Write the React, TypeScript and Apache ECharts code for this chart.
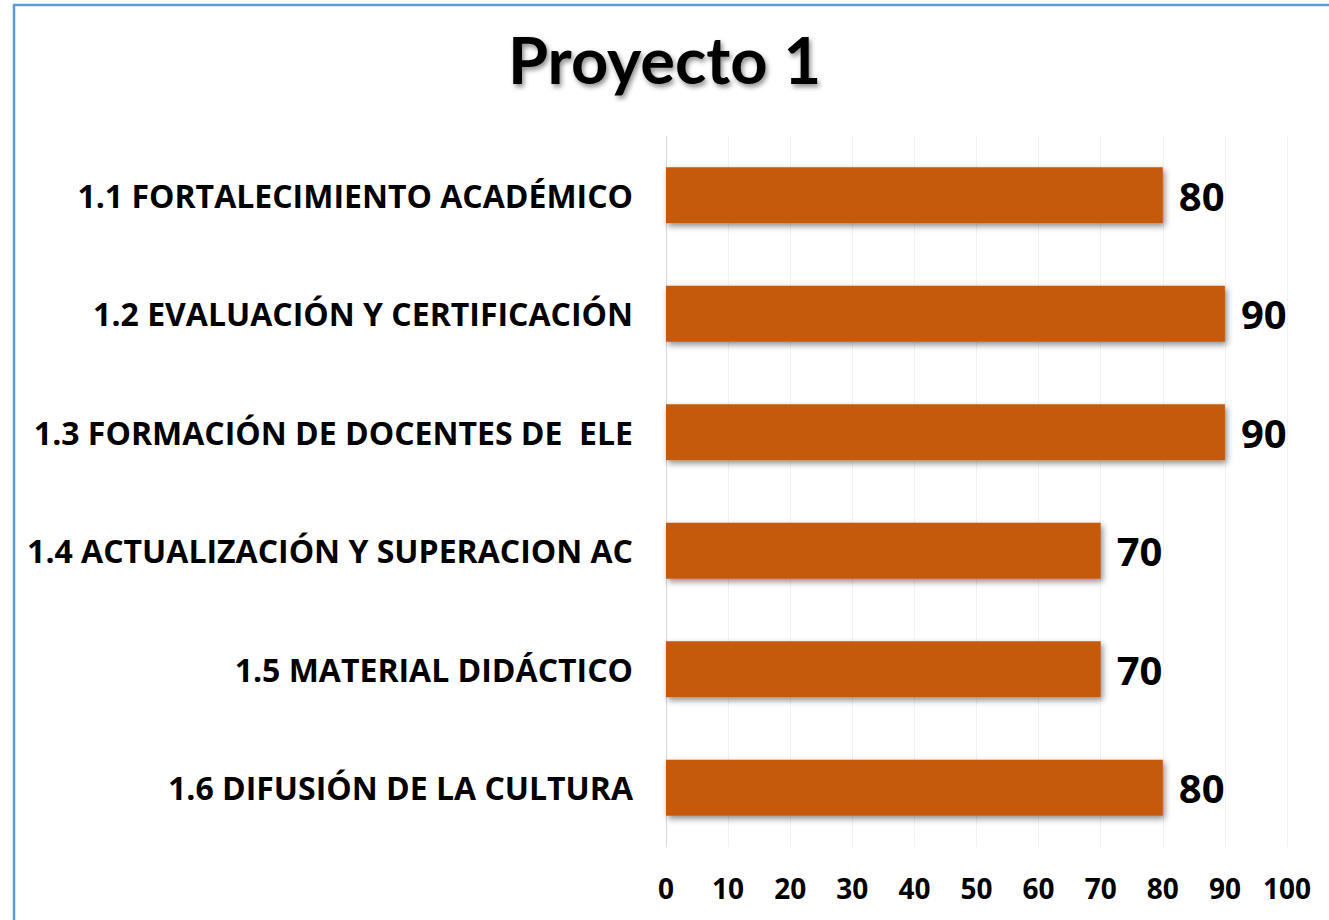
import React, { useEffect, useRef } from "react";
import * as echarts from "echarts";

const categories = [
  "1.1 FORTALECIMIENTO ACADÉMICO",
  "1.2 EVALUACIÓN Y CERTIFICACIÓN",
  "1.3 FORMACIÓN DE DOCENTES DE  ELE",
  "1.4 ACTUALIZACIÓN Y SUPERACION AC",
  "1.5 MATERIAL DIDÁCTICO",
  "1.6 DIFUSIÓN DE LA CULTURA",
];
const values = [80, 90, 90, 70, 70, 80];
const titleText = "Proyecto 1";

const TITLE_FONT = "Lato, 'Noto Sans', sans-serif";
const FONT = "'Open Sans', 'Noto Sans', sans-serif";

export default function App() {
  const ref = useRef<HTMLDivElement>(null);
  useEffect(() => {
    if (!ref.current) return;
    const chart = echarts.init(ref.current, undefined, { renderer: "svg" });
    chart.setOption({
      animation: false,
      backgroundColor: "#ffffff",
      title: {
        text: titleText,
        left: "center",
        top: 21,
        textStyle: {
          fontFamily: TITLE_FONT,
          fontWeight: "bold",
          fontSize: 65,
          color: "#000",
          textShadowColor: "rgba(0,0,0,0.45)",
          textShadowBlur: 5,
          textShadowOffsetX: 2,
          textShadowOffsetY: 3,
        },
      },
      graphic: [
        {
          type: "rect",
          shape: { x: 14, y: 5, width: 1400, height: 1000 },
          style: { fill: "none", stroke: "#5B9BD5", lineWidth: 2.5 },
          silent: true,
        },
      ],
      grid: { left: 666, right: 42, top: 136, bottom: 73 },
      xAxis: {
        type: "value",
        min: 0,
        max: 100,
        interval: 10,
        axisLine: { show: false },
        axisTick: { show: false },
        splitLine: { show: true, lineStyle: { color: "#F2F2F2", width: 1 } },
        axisLabel: {
          fontFamily: FONT,
          fontWeight: "bold",
          fontSize: 28,
          color: "#000",
          margin: 27,
        },
      },
      yAxis: {
        type: "category",
        data: categories,
        inverse: true,
        axisLine: { show: true, lineStyle: { color: "#D9D9D9", width: 1 } },
        axisTick: { show: false },
        axisLabel: {
          fontFamily: FONT,
          fontWeight: "bold",
          fontSize: 32,
          color: "#000",
          margin: 33,
        },
      },
      series: [
        {
          type: "bar",
          data: values,
          barWidth: 56,
          itemStyle: {
            color: "#C55A11",
            shadowColor: "rgba(0,0,0,0.45)",
            shadowBlur: 6,
            shadowOffsetX: 2,
            shadowOffsetY: 3,
          },
          label: {
            show: true,
            position: "right",
            distance: 16,
            fontFamily: FONT,
            fontWeight: "bold",
            fontSize: 40,
            color: "#000",
          },
        },
      ],
    });
    return () => chart.dispose();
  }, []);
  return (
    <div
      ref={ref}
      style={{ position: "fixed", left: 0, top: 0, width: 1329, height: 920 }}
    />
  );
}
